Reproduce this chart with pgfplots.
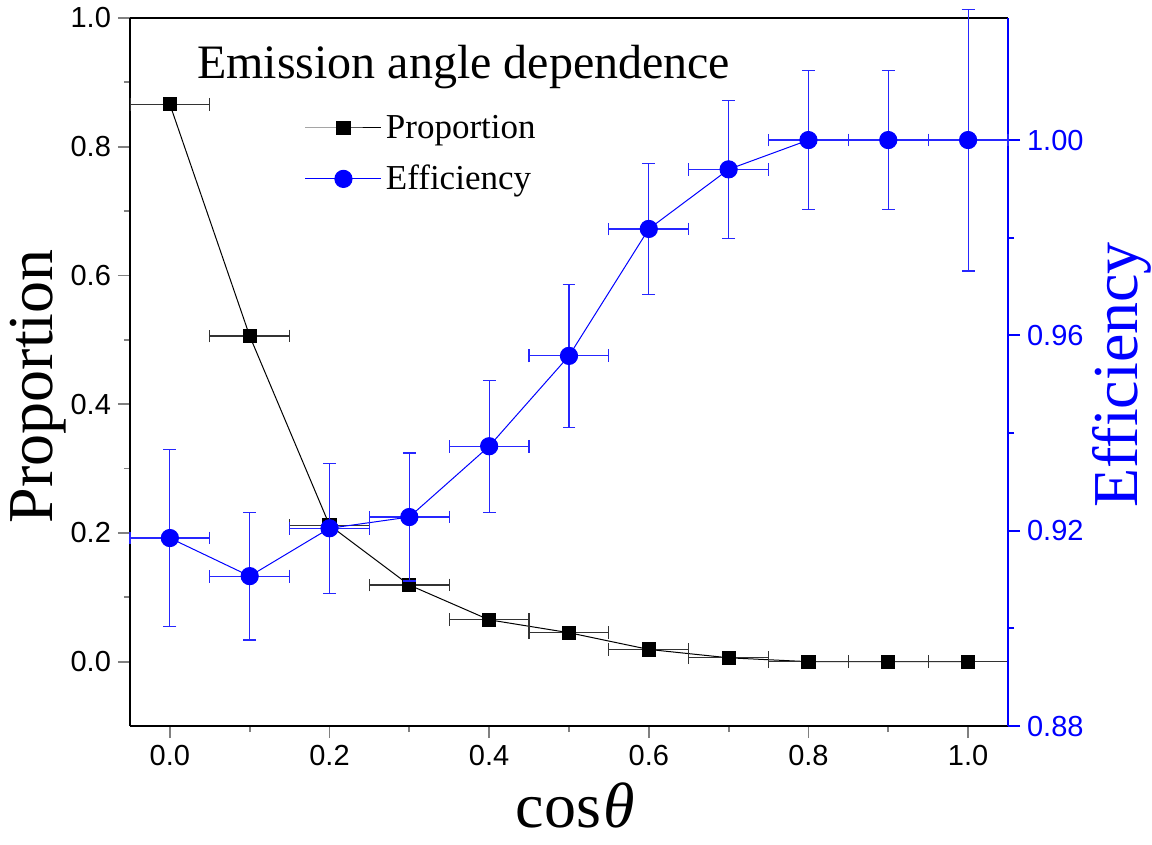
\documentclass[border=0pt]{standalone}
\usepackage{pgfplots}
\pgfplotsset{compat=1.18}
\usepackage{fontspec}
\setmainfont{Liberation Serif}
\newfontfamily\arial{Liberation Sans}

\pgfplotstableread{
x     y      ex    ey
0.0   0.866  0.05  0.010
0.1   0.506  0.05  0.0
0.2   0.212  0.05  0.0
0.3   0.119  0.05  0.0
0.4   0.065  0.05  0.0
0.5   0.045  0.05  0.0
0.6   0.019  0.05  0.0
0.7   0.006  0.05  0.0
0.8   0.000  0.05  0.0
0.9   0.000  0.05  0.0
1.0   0.000  0.05  0.0
}\proportion

\pgfplotstableread{
x     y       ex    ey
0.0   0.9185  0.05  0.0181
0.1   0.9107  0.05  0.0131
0.2   0.9205  0.05  0.0133
0.3   0.9228  0.05  0.0131
0.4   0.9373  0.05  0.0135
0.5   0.9558  0.05  0.0146
0.6   0.9818  0.05  0.0134
0.7   0.9940  0.05  0.0141
0.8   1.0000  0.05  0.0143
0.9   1.0000  0.05  0.0143
1.0   1.0000  0.05  0.0268
}\efficiency

\pgfplotsset{
  common/.style={
    width=439pt, height=354pt, scale only axis,
    xmin=-0.05, xmax=1.05,
    tick align=outside,
    major tick length=6pt, minor tick length=3pt,
    tick style={line width=0.9pt},
    axis line style={line width=1pt},
    tick label style={font=\arial\fontsize{14.5}{16}\selectfont},
    /pgf/number format/assume math mode=true,
    label style={font=\fontsize{32}{36}\selectfont, inner sep=0pt},
  },
  errs/.style={
    error bars/.cd, x dir=both, x explicit, y dir=both, y explicit,
    error bar style={line width=0.6pt, #1},
    error mark options={line width=0.6pt, mark size=3.2pt, rotate=90, #1},
    /pgfplots/.cd,
  },
}

\begin{document}
\begin{tikzpicture}
\begin{axis}[common,
  axis x line*=box, axis y line*=left,
  xtick pos=bottom,
  ymin=-0.1, ymax=1.0,
  xtick={0,0.2,...,1.0}, ytick={0,0.2,...,1.0},
  minor tick num=1,
  xticklabel style={/pgf/number format/.cd, fixed, fixed zerofill, precision=1},
  yticklabel style={/pgf/number format/.cd, fixed, fixed zerofill, precision=1},
  xlabel={cos\kern1pt\textit{θ}},
  ylabel={Proportion},
  xlabel style={at={(axis description cs:0.507,-0.112)}, anchor=center},
  ylabel style={at={(axis description cs:-0.105,0.48)}, anchor=center},
  legend style={draw=none, fill=none, at={(axis description cs:0.192,0.875)},
    anchor=north west, font=\fontsize{17.5}{19}\selectfont, row sep=8pt,
    legend cell align=left},
  legend image code/.code={
    \draw[#1, mark repeat=2, mark phase=2] plot coordinates {(0pt,0pt) (19pt,0pt) (38pt,0pt)};},
]
\coordinate (bl) at (rel axis cs:-0.148,-0.1667);
\coordinate (tr) at (rel axis cs:1.164,1.0254);
\addplot[black, line width=0.5pt, mark=square*, mark size=3.3pt,
  mark options={solid, fill=black}, errs={black!80}]
  table[x=x, y=y, x error=ex, y error=ey] {\proportion};
\addlegendentry{Proportion}
\addlegendimage{blue, line width=0.5pt, mark=*, mark size=4.3pt, mark options={fill=blue}}
\addlegendentry{Efficiency}
\node[anchor=base west, inner sep=0pt, font=\fontsize{24}{28}\selectfont]
  at (rel axis cs:0.076,0.915) {Emission angle dependence};
\end{axis}

\begin{axis}[common,
  axis x line=none, axis y line*=right,
  clip=false,
  ymin=0.88, ymax=1.025,
  ytick={0.88,0.92,0.96,1.00},
  minor y tick num=1,
  y axis line style={blue},
  y tick style={blue},
  yticklabel style={blue, /pgf/number format/.cd, fixed, fixed zerofill, precision=2},
  ylabel={Efficiency},
  ylabel style={blue, at={(axis description cs:1.13,0.496)}, anchor=center},
]
\addplot[blue, line width=0.5pt, mark=*, mark size=4.3pt,
  mark options={solid, fill=blue}, errs={blue!85}]
  table[x=x, y=y, x error=ex, y error=ey] {\efficiency};
\end{axis}
\path (bl) rectangle (tr);
\end{tikzpicture}
\end{document}
